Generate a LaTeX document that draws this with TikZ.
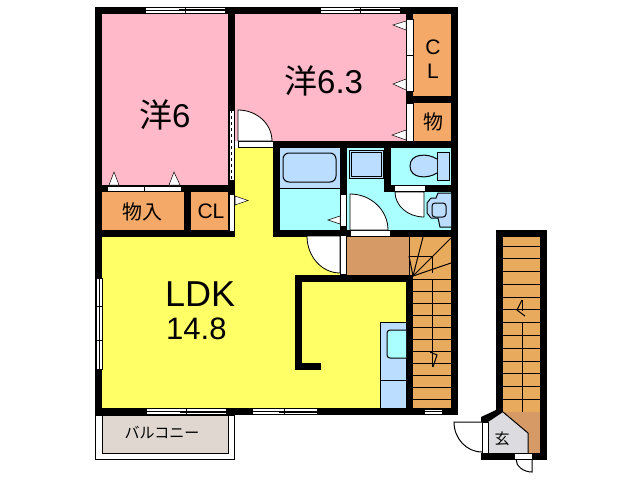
\documentclass[tikz,border=0pt]{standalone}
\usepackage{fontspec}
\setmainfont{Liberation Sans}
\newfontfamily\jpfont{Noto Sans CJK JP}
\definecolor{roompink}{HTML}{FFB9C8}
\definecolor{closetorange}{HTML}{F4A968}
\definecolor{ldkyellow}{HTML}{FFFF66}
\definecolor{wetcyan}{HTML}{AAFFFF}
\definecolor{fixtureblue}{HTML}{BBDDFF}
\definecolor{stairorange}{HTML}{E8AA5C}
\definecolor{floorbrown}{HTML}{D69A66}
\definecolor{hallgrey}{HTML}{DCDCE0}
\definecolor{balconybeige}{HTML}{E0D8D0}
\tikzset{
  wallfill/.style={fill=black},
  opening/.style={fill=white,draw=black,line width=0.5pt},
  thinline/.style={draw=black,line width=1pt},
  doorleaf/.style={fill=white,draw=black,line width=0.8pt},
  guidetip/.style={fill=white,draw=black,line width=0.5pt},
  biglabel/.style={font=\fontsize{33}{36}\selectfont,inner sep=0pt},
  smalllabel/.style={font=\fontsize{21}{24}\selectfont,inner sep=0pt}
}
\begin{document}
\begin{tikzpicture}[x=1pt,y=-1pt]
  \useasboundingbox (0,0) rectangle (638,480);

  % Pavimenti
  \fill[roompink] (102,14) rectangle (228,185);
  \fill[roompink] (235,14) rectangle (406,141);
  \fill[closetorange] (102,192) rectangle (184,230);
  \fill[closetorange] (191,192) rectangle (228,230);
  \fill[closetorange] (413,14) rectangle (451,96);
  \fill[closetorange] (413,103) rectangle (451,141);
  \fill[ldkyellow] (102,237) rectangle (406,408);
  \fill[ldkyellow] (235,148) rectangle (273,237);
  \fill[wetcyan] (280,148) rectangle (340,230);
  \fill[wetcyan] (347,148) rectangle (451,230);
  \fill[fixtureblue] (280,148) rectangle (340,188);
  \fill[floorbrown] (347,237) rectangle (409,275);
  \fill[stairorange] (409,237) rectangle (451,408);
  \fill[stairorange] (503,237) rectangle (540,412);
  \fill[floorbrown] (503,412) -- (540,412) -- (540,453) -- (528,453) -- (528,433) -- cycle;
  \fill[hallgrey] (503,412) -- (528,433) -- (528,453) -- (488,453) -- (488,421) -- cycle;

  % Balcone
  \draw[thinline] (95.5,415) rectangle (234.5,459);
  \draw[thinline,fill=balconybeige] (102,415) rectangle (228,453);

  % Muri
  \foreach \xa/\ya/\xb/\yb in {95/7/458/14,95/7/102/415,95/408/458/415,451/7/458/415,
    228/7/235/237,102/185/235/192,102/230/235/237,184/192/191/230,
    406/14/413/141,406/96/451/103,273/141/458/148,273/141/280/237,
    340/148/347/274,384/148/391/192,384/185/451/192,273/230/458/237,
    295/275/413/282,295/275/302/370,295/363/321/370,406/275/413/408,
    496/230/547/237,496/230/503/412,540/230/547/460,481/453/547/460} {
    \fill[wallfill] (\xa,\ya) rectangle (\xb,\yb);
  }
  \fill[wallfill] (481,417) -- (496,410) -- (503,412) -- (488,422) -- (481,422) -- cycle;

  % Finestre
  \foreach \xa/\xb in {145/225,320/400} {
    \draw[opening] (\xa,7.5) rectangle (\xb,13);
    \draw[line width=0.5pt] (\xa,10) -- (\xb,10);
    \draw[line width=0.5pt] (\xa/2+\xb/2-6,9) -- (\xb,9);
    \draw[line width=0.5pt] (\xa/2+\xb/2,8) -- (\xa/2+\xb/2,13);
  }
  \foreach \xa/\xb in {146/226,252/317} {
    \draw[opening] (\xa,408.5) rectangle (\xb,414.5);
    \draw[line width=0.5pt] (\xa,411) -- (\xb,411);
    \draw[line width=0.5pt] (\xa/2+\xb/2-6,412) -- (\xb,412);
    \draw[line width=0.5pt] (\xa/2+\xb/2,409) -- (\xa/2+\xb/2,414);
  }
  \draw[opening] (424,409) rectangle (442,414);
  \draw[line width=0.5pt] (424,411.5) -- (442,411.5);
  \draw[opening] (96,278) rectangle (102,369);
  \draw[line width=0.5pt] (99,278) -- (99,369);
  \draw[line width=0.5pt] (97,306) -- (102,306);
  \draw[line width=0.5pt] (97,340) -- (102,340);
  \draw[opening] (229,110) rectangle (234.5,180);
  \draw[line width=0.5pt,dashed] (231.5,110) -- (231.5,180);

  % Ante e porte scorrevoli
  \draw[opening] (107,186) rectangle (181,191.5);
  \draw[line width=0.5pt] (144,186) -- (144,191.5);
  \draw[opening] (229,194) rectangle (234.5,231);
  \draw[opening] (406.5,19) rectangle (413,91);
  \draw[line width=0.5pt] (406.5,55) -- (413,55);
  \draw[opening] (406.5,103) rectangle (413,141);
  \draw[opening] (340.5,194) rectangle (346.5,226);
  \draw[opening] (340.5,235) rectangle (346.5,274);
  \draw[opening] (350,230.5) rectangle (390,236.5);
  \draw[opening] (394,185.5) rectangle (425,191.5);
  \draw[opening] (238,141.5) rectangle (273,147.5);
  \draw[opening] (514,453.5) rectangle (532,459);
  \draw[opening] (482,422) rectangle (488,453);

  % Battenti
  \draw[doorleaf] (238,141) -- (238,110) arc[start angle=90,end angle=0,x radius=34,y radius=-31] -- cycle;
  \draw[doorleaf] (350,230) -- (350,194) arc[start angle=90,end angle=0,x radius=38,y radius=-36] -- cycle;
  \draw[doorleaf] (424,192) -- (395,192) arc[start angle=180,end angle=270,x radius=29,y radius=-25] -- cycle;
  \draw[doorleaf] (340,236) -- (307,236) arc[start angle=180,end angle=270,x radius=33,y radius=-37] -- cycle;
  \draw[thinline] (482,422) -- (454,422) arc[start angle=180,end angle=270,x radius=28,y radius=-30];
  \draw[thinline] (532,459) -- (532,472) arc[start angle=270,end angle=180,x radius=16,y radius=-13];

  % Triangoli delle ante
  \foreach \xb/\yb/\xc/\yc/\xt/\yt in {109/185/119/185/114/172,169/185/180/185/174/172,
    235/196/235/205/248/200.5,406/21/406/30/393/25,406/79/406/90/393/84,406/130/406/140/392/135,
    340/216/340/224/328/220} {
    \draw[guidetip] (\xb,\yb) -- (\xt,\yt) -- (\xc,\yc) -- cycle;
  }

  % Bagno
  \draw[thinline] (280,188) -- (340,188);
  \draw[thinline,fill=fixtureblue] (283,153) [rounded corners=6pt] rectangle (336,182);
  \draw[thinline,fill=fixtureblue] (349,150) rectangle (383,178);
  \draw[line width=0.6pt] (351,152) rectangle (381,176);
  \draw[thinline,fill=fixtureblue] (437,152) rectangle (449,180);
  \draw[thinline,fill=fixtureblue] (437,159) .. controls (428,153) and (410,153) .. (410,166) .. controls (410,179) and (428,179) .. (437,173);
  \draw[thinline,fill=fixtureblue] (451,193) -- (438,193) -- (436,198) -- (431,198) -- (427,203) -- (427,213) -- (431,218) -- (438,218) -- (440,227) -- (451,227);
  \draw[thinline,fill=fixtureblue] (432,203) [rounded corners=3pt] rectangle (446,217);

  % Cucina
  \draw[thinline,fill=fixtureblue] (406,322) -- (380,322) -- (380,408) -- (406,408);
  \draw[thinline] (380,380) -- (406,380);
  \draw[thinline,fill=wetcyan] (406,330) [rounded corners=3pt] -- (387,330) -- (387,358) -- (406,358);

  % Scale
  \draw[thinline] (409,237) -- (409,275);
  \foreach \y in {279,291,303,315,327,339,351,363,375,387,399} {
    \draw[thinline] (413,\y) -- (451,\y);
  }
  \draw[thinline] (432,256) -- (432,273);
  \draw[thinline] (409,256) -- (432,256);
  \draw[thinline] (413,276) -- (451,238);
  \draw[thinline] (413,276) -- (423,237);
  \draw[thinline] (413,276) -- (451,263);
  \draw[thinline] (413,276) -- (409,256);
  \draw[thinline] (432,279) -- (432,367);
  \draw[thinline] (430,352) -- (437,355) -- (433,367);
  \foreach \y in {246,258,271,284,297,309,322,335,348,361,373,386,399} {
    \draw[thinline] (503,\y) -- (540,\y);
  }
  \draw[thinline] (522,322) -- (522,412);
  \draw[thinline] (522,300) -- (522,311);
  \draw[thinline] (522,300) -- (517,310) -- (525,316);
  \draw[thinline] (503,412) -- (528,433) -- (528,453);

  % Testi
  \node[biglabel,anchor=west] (room6) at (139,115) {{\jpfont 洋}6};
  \node[biglabel,anchor=west] (room63) at (284,81) {{\jpfont 洋}6.3};
  \node[biglabel,anchor=west,font=\fontsize{36}{38}\selectfont] (ldk) at (165,294) {LDK};
  \node[biglabel,anchor=west,font=\fontsize{31}{34}\selectfont] (ldkarea) at (166,329) {14.8};
  \node[smalllabel,font=\fontsize{20}{22}\selectfont\jpfont] (storage) at (142,212) {物入};
  \node[smalllabel] (closetsmall) at (211,211) {CL};
  \node[smalllabel] (closetc) at (433,47) {C};
  \node[smalllabel] (closetl) at (433,71) {L};
  \node[smalllabel,font=\fontsize{20}{22}\selectfont\jpfont] (storagesmall) at (433,122) {物};
  \node[inner sep=0pt,font=\fontsize{15}{18}\selectfont\jpfont] (balcony) at (162,433) {バルコニー};
  \node[inner sep=0pt,font=\fontsize{15}{18}\selectfont\jpfont] (entrance) at (502,439) {玄};
\end{tikzpicture}
\end{document}
